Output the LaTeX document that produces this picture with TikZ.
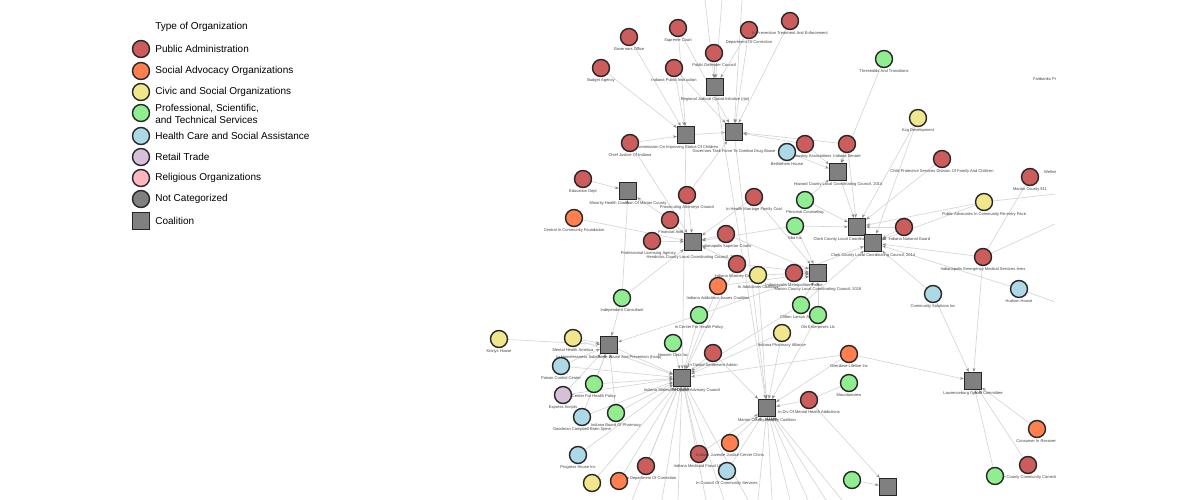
\documentclass[tikz,border=0pt]{standalone}
\usepackage{fontspec}
\setmainfont{Liberation Sans}
\usetikzlibrary{arrows.meta}
\definecolor{pacol}{RGB}{205,92,92}
\definecolor{saocol}{RGB}{255,127,80}
\definecolor{csocol}{RGB}{240,230,140}
\definecolor{pstcol}{RGB}{144,238,144}
\definecolor{hccol}{RGB}{173,216,230}
\definecolor{rtcol}{RGB}{216,191,216}
\definecolor{rocol}{RGB}{255,182,193}
\definecolor{nccol}{RGB}{128,128,128}
\definecolor{linkcol}{RGB}{215,215,215}
\pgfdeclarelayer{bg}
\pgfsetlayers{bg,main}
\tikzset{
    org/.style={circle, draw=black!85, line width=0.8pt, minimum size=0.34cm, inner sep=0pt},
    pa/.style={org, fill=pacol},
    sao/.style={org, fill=saocol},
    cso/.style={org, fill=csocol},
    pst/.style={org, fill=pstcol},
    hc/.style={org, fill=hccol},
    rt/.style={org, fill=rtcol},
    ro/.style={org, fill=rocol},
    nc/.style={org, fill=nccol},
    coal/.style={rectangle, draw=black!85, line width=0.8pt, fill=nccol, minimum size=0.34cm, inner sep=0pt},
    lbl/.style={font=\fontsize{2.3}{2.6}\selectfont, text=black!75, inner sep=0.5pt},
    link/.style={draw=linkcol, line width=0.4pt},
    tie/.style={link, -{Stealth[length=2.2pt,width=1.7pt,color=black!45]}},
    legtxt/.style={anchor=west, font=\fontsize{5.7}{6.9}\selectfont, inner sep=0pt, align=left}
}
\begin{document}
\begin{tikzpicture}[x=0.02cm, y=-0.02cm]
    \useasboundingbox (0,0) rectangle (1200,500);
    \node[legtxt] (legtitle) at (155,27) {Type of Organization};
    \node[pa] (legpa) at (141,49) {};
    \node[legtxt] (legpatxt) at (155,49) {Public Administration};
    \node[sao] (legsao) at (141,71) {};
    \node[legtxt] (legsaotxt) at (155,71) {Social Advocacy Organizations};
    \node[cso] (legcso) at (141,92) {};
    \node[legtxt] (legcsotxt) at (155,92) {Civic and Social Organizations};
    \node[pst] (legpst) at (141,113) {};
    \node[legtxt] (legpsttxt) at (155,114) {Professional, Scientific,\\and Technical Services};
    \node[hc] (leghc) at (141,136) {};
    \node[legtxt] (leghctxt) at (155,136) {Health Care and Social Assistance};
    \node[rt] (legrt) at (141,157) {};
    \node[legtxt] (legrttxt) at (155,157) {Retail Trade};
    \node[ro] (legro) at (141,178) {};
    \node[legtxt] (legrotxt) at (155,178) {Religious Organizations};
    \node[nc] (legnc) at (141,199) {};
    \node[legtxt] (legnctxt) at (155,199) {Not Categorized};
    \node[coal] (legcoal) at (141,221) {};
    \node[legtxt] (legcoaltxt) at (155,221) {Coalition};

    \begin{scope}
    \clip (470,0) rectangle (1055,500);
    \node[coal, label={[lbl]below:Regional Judicial Opioid Initiative (rjoi)}] (rjoi) at (715,87) {};
    \node[coal, label={[lbl, xshift=-5pt]below:Commission On Improving Status Of Children}] (cisc) at (686,135) {};
    \node[coal, label={[lbl, yshift=-4pt]below:Governors Task Force To Combat Drug Abuse}] (gtf) at (734,132) {};
    \node[coal, label={[lbl]below:Minority Health Coalition Of Marion County}] (mhc) at (628,191) {};
    \node[coal, label={[lbl]below:Howard County Local Coordinating Council, 2014}] (howard) at (838,172) {};
    \node[coal, label={[lbl, yshift=-2pt]below:Hendricks County Local Coordinating Council, 2016}] (hend) at (693,242) {};
    \node[coal, label={[lbl, xshift=-4pt]below:Clark County Local Coordinating Council}] (clarka) at (857,227) {};
    \node[coal, label={[lbl]below:Clark County Local Coordinating Council, 2014}] (clarkb) at (873,243) {};
    \node[coal, label={[lbl, yshift=-2.5pt]below:Marion County Local Coordinating Council, 2018}] (mclcc) at (818,273) {};
    \node[coal, label={[lbl]below:In Homelessness Substance Abuse And Prevention (hsap)}] (hsap) at (609,345) {};
    \node[coal, label={[lbl]below:Indiana Statewide Opioid Advisory Council}] (soac) at (682,378) {};
    \node[coal, label={[lbl]below:Marion County Healthy Coalition}] (mchc) at (767,408) {};
    \node[coal, label={[lbl]below:Lawrenceburg Opioid Committee}] (lawr) at (973,381) {};
    \node[coal] (southco) at (888,487) {};

    \node[pa, label={[lbl]below:Governors Office}] (govoff) at (629,37) {};
    \node[pa, label={[lbl]below:Supreme Court}] (supct) at (678,28) {};
    \node[pa, label={[lbl]below:Budget Agency}] (budget) at (601,68) {};
    \node[pa, label={[lbl]below:Indiana Public Instruction}] (pubinst) at (674,68) {};
    \node[pa, label={[lbl]below:Public Defender Council}] (pubdef) at (714,53) {};
    \node[pa, label={[lbl]below:Department Of Correction}] (doc) at (749,30) {};
    \node[pa, label={[lbl]below:In Prevention Treatment And Enforcement}] (pte) at (790,21) {};
    \node[pa, label={[lbl]below:Chief Justice Of Indiana}] (chiefj) at (630,143) {};
    \node[pa, label={[lbl]below:Education Dept}] (edu) at (583,179) {};
    \node[pa, label={[lbl]below:Prosecuting Attorneys Council}] (prosec) at (687,195) {};
    \node[pa, label={[lbl]below:In Health Marriage Family Coal}] (hmfc) at (754,197) {};
    \node[pa, label={[lbl]below:Financial Aid}] (finaid) at (670,220) {};
    \node[pa, label={[lbl, xshift=-2pt]below:Professional Licensing Agency}] (pla) at (652,241) {};
    \node[pa, label={[lbl]below:Indianapolis Superior Courts}] (supcourts) at (726,234) {};
    \node[pa, label={[lbl]below:Indiana Attorney General}] (attgen) at (737,264) {};
    \node[pa, label={[lbl]below:Indianapolis Metropolitan Police}] (impd) at (794,273) {};
    \node[pa, label={[lbl]below:In Opioid Settlement Admin}] (setadm) at (713,353) {};
    \node[pa, label={[lbl]below:In Div Of Mental Health Addictions}] (dmha) at (809,400) {};
    \node[pa, label={[lbl]below:Indiana Department Of Correction}] (idoc) at (646,466) {};
    \node[pa, label={[lbl]below:Indiana Medicaid Fraud Unit}] (mfu) at (699,454) {};
    \node[pa, label={[lbl]below:Indiana Housing Associations}] (housing) at (805,144) {};
    \node[pa, label={[lbl]below:Indiana Senate}] (senate) at (847,144) {};
    \node[pa, label={[lbl]below:Child Protective Services Division Of Family And Children}] (cps) at (942,159) {};
    \node[pa, label={[lbl]below:Marion County 911}] (mc911) at (1030,177) {};
    \node[pa, label={[lbl, xshift=3pt]below:Indiana National Guard}] (guard) at (904,227) {};
    \node[pa, label={[lbl]below:Indianapolis Emergency Medical Services Iems}] (iems) at (983,257) {};
    \node[pa, label={[lbl]below:Marion County Community Corrections}] (mccc) at (1028,465) {};

    \node[sao, label={[lbl]below:Central In Community Foundation}] (cicf) at (574,218) {};
    \node[sao, label={[lbl]below:Indiana Addictions Issues Coalition}] (aic) at (718,286) {};
    \node[sao, label={[lbl]below:Overdose Lifeline Inc}] (odl) at (849,354) {};
    \node[sao, label={[lbl]below:Indiana Juvenile Justice Center Chins}] (jjc) at (730,443) {};
    \node[sao] (youth) at (619,481) {};
    \node[sao, label={[lbl]below:Consumer In Recovery}] (cir) at (1037,429) {};

    \node[cso, label={[lbl]below:Kcg Development}] (kcg) at (918,118) {};
    \node[cso, label={[lbl]below:Public Advocates In Community Re-entry Pace}] (pace) at (984,202) {};
    \node[cso, label={[lbl]below:In Addictions Coalition}] (iac) at (758,275) {};
    \node[cso, label={[lbl]below:Indiana Pharmacy Alliance}] (ipa) at (782,333) {};
    \node[cso, label={[lbl]below:Kristys House}] (kristy) at (499,339) {};
    \node[cso, label={[lbl]below:Mental Health America}] (mha) at (573,338) {};
    \node[cso] (civic) at (592,483) {};

    \node[pst, label={[lbl]below:Thresholds And Transitions}] (thresh) at (884,59) {};
    \node[pst, label={[lbl]below:Personal Counseling}] (perscoun) at (805,200) {};
    \node[pst, label={[lbl]below:Sba Inc}] (sba) at (795,226) {};
    \node[pst, label={[lbl]below:Independent Consultant}] (indcons) at (622,298) {};
    \node[pst, label={[lbl]below:In Center For Health Policy}] (cfhp) at (699,315) {};
    \node[pst, label={[lbl]below:Clifton Larson Allen Llp}] (clifton) at (801,305) {};
    \node[pst, label={[lbl]below:Ols Enterprises Llc}] (ols) at (818,315) {};
    \node[pst, label={[lbl]below:Hoosier Data Inc}] (hoosier) at (673,343) {};
    \node[pst, label={[lbl]below:Center For Health Policy}] (chp) at (594,384) {};
    \node[pst, label={[lbl]below:Indiana Board Of Pharmacy}] (pharmb) at (616,413) {};
    \node[pst, label={[lbl]below:Mountainview}] (mtview) at (849,383) {};
    \node[pst] (consult) at (852,480) {};
    \node[pst] (mcgreen) at (995,476) {};

    \node[hc, label={[lbl]below:Bethlehem House}] (bethl) at (787,152) {};
    \node[hc, label={[lbl]below:Community Solutions Inc}] (commsol) at (933,294) {};
    \node[hc, label={[lbl]below:Hudson House}] (hudson) at (1019,289) {};
    \node[hc, label={[lbl]below:Poison Control Center}] (poison) at (561,366) {};
    \node[hc, label={[lbl]below:Goodman Campbell Brain Spine}] (goodman) at (582,417) {};
    \node[hc, label={[lbl]below:Progress House Inc}] (progress) at (578,455) {};
    \node[hc, label={[lbl]below:In Council Of Community Services}] (iccs) at (727,471) {};

    \node[rt, label={[lbl]below:Express Scripts}] (express) at (563,395) {};

    \node[lbl, anchor=west] (fairbanks) at (1032,79) {Fairbanks Prevention};
    \node[lbl, anchor=west] (wellness) at (1043,172) {Wellness Center};

    \coordinate (top1) at (705,0);
    \coordinate (top2) at (722,0);
    \coordinate (top3) at (742,0);
    \coordinate (rt1) at (1055,194);
    \coordinate (rt2) at (1055,224);
    \coordinate (rt3) at (1055,302);
    \coordinate (bt1) at (632,500);
    \coordinate (bt2) at (662,500);
    \coordinate (bt3) at (678,500);
    \coordinate (bt4) at (706,500);
    \coordinate (bt5) at (724,500);
    \coordinate (bt6) at (748,500);
    \coordinate (bt7) at (758,500);
    \coordinate (bt8) at (772,500);
    \coordinate (bt9) at (790,500);
    \coordinate (bt10) at (808,500);
    \coordinate (bt11) at (826,500);
    \coordinate (bt12) at (842,500);
    \end{scope}

    \begin{pgfonlayer}{bg}
    \begin{scope}
    \clip (470,0) rectangle (1055,500);
    \draw[tie] (top1) -- (rjoi);
    \draw[tie] (top2) -- (rjoi);
    \draw[tie] (pubdef) -- (rjoi);
    \draw[tie] (doc) -- (rjoi);
    \draw[tie] (budget) -- (cisc);
    \draw[tie] (govoff) -- (cisc);
    \draw[tie] (supct) -- (cisc);
    \draw[tie] (pubinst) -- (cisc);
    \draw[tie] (chiefj) -- (cisc);
    \draw[tie] (supct) -- (gtf);
    \draw[tie] (pubinst) -- (gtf);
    \draw[tie] (doc) -- (gtf);
    \draw[tie] (pte) -- (gtf);
    \draw[tie] (top3) -- (gtf);
    \draw[tie] (housing) -- (gtf);
    \draw[tie] (senate) -- (gtf);
    \draw[tie] (prosec) -- (gtf);
    \draw[tie] (cisc) -- (gtf);
    \draw[tie] (edu) -- (mhc);
    \draw[tie] (finaid) -- (mhc);
    \draw[tie] (indcons) -- (mhc);
    \draw[tie] (cicf) -- (hend);
    \draw[tie] (pla) -- (hend);
    \draw[tie] (finaid) -- (hend);
    \draw[tie] (prosec) -- (hend);
    \draw[tie] (supcourts) -- (hend);
    \draw[tie] (attgen) -- (hend);
    \draw[tie] (indcons) -- (hend);
    \draw[tie] (sba) -- (hend);
    \draw[tie] (hmfc) -- (hend);
    \draw[tie] (chiefj) -- (hend);
    \draw[tie] (housing) -- (howard);
    \draw[tie] (senate) -- (howard);
    \draw[tie] (thresh) -- (howard);
    \draw[tie] (bethl) -- (howard);
    \draw[tie] (perscoun) -- (howard);
    \draw[tie] (kcg) -- (clarka);
    \draw[tie] (cps) -- (clarka);
    \draw[tie] (pace) -- (clarka);
    \draw[tie] (perscoun) -- (clarka);
    \draw[tie] (senate) -- (clarka);
    \draw[tie] (guard) -- (clarka);
    \draw[tie] (howard) -- (clarka);
    \draw[tie] (sba) -- (clarka);
    \draw[tie] (guard) -- (clarkb);
    \draw[tie] (commsol) -- (clarkb);
    \draw[tie] (hudson) -- (clarkb);
    \draw[tie] (iems) -- (clarkb);
    \draw[tie] (pace) -- (clarkb);
    \draw[tie] (clifton) -- (clarkb);
    \draw[tie] (impd) -- (clarkb);
    \draw[tie] (kcg) -- (clarkb);
    \draw[tie] (impd) -- (mclcc);
    \draw[tie] (iac) -- (mclcc);
    \draw[tie] (attgen) -- (mclcc);
    \draw[tie] (aic) -- (mclcc);
    \draw[tie] (clifton) -- (mclcc);
    \draw[tie] (ols) -- (mclcc);
    \draw[tie] (sba) -- (mclcc);
    \draw[tie] (hmfc) -- (mclcc);
    \draw[tie] (supcourts) -- (mclcc);
    \draw[tie] (cfhp) -- (mclcc);
    \draw[tie] (kristy) -- (hsap);
    \draw[tie] (mha) -- (hsap);
    \draw[tie] (poison) -- (hsap);
    \draw[tie] (chp) -- (hsap);
    \draw[tie] (indcons) -- (hsap);
    \draw[tie] (pharmb) -- (hsap);
    \draw[tie] (goodman) -- (hsap);
    \draw[tie] (express) -- (hsap);
    \draw[tie] (cfhp) -- (hsap);
    \draw[tie] (hoosier) -- (soac);
    \draw[tie] (setadm) -- (soac);
    \draw[tie] (chp) -- (soac);
    \draw[tie] (poison) -- (soac);
    \draw[tie] (goodman) -- (soac);
    \draw[tie] (progress) -- (soac);
    \draw[tie] (pharmb) -- (soac);
    \draw[tie] (express) -- (soac);
    \draw[tie] (mha) -- (soac);
    \draw[tie] (cfhp) -- (soac);
    \draw[tie] (aic) -- (soac);
    \draw[tie] (odl) -- (soac);
    \draw[tie] (ipa) -- (soac);
    \draw[tie] (attgen) -- (soac);
    \draw[tie] (clifton) -- (soac);
    \draw[tie] (hsap) -- (soac);
    \draw[tie] (cisc) -- (soac);
    \draw[tie] (civic) -- (soac);
    \draw[tie] (youth) -- (soac);
    \draw[tie] (idoc) -- (soac);
    \draw[tie] (mfu) -- (soac);
    \draw[tie] (bt1) -- (soac);
    \draw[tie] (bt2) -- (soac);
    \draw[tie] (bt3) -- (soac);
    \draw[tie] (bt4) -- (soac);
    \draw[tie] (bt5) -- (soac);
    \draw[tie] (bt6) -- (soac);
    \draw[tie] (dmha) -- (mchc);
    \draw[tie] (ipa) -- (mchc);
    \draw[tie] (ols) -- (mchc);
    \draw[tie] (setadm) -- (mchc);
    \draw[tie] (jjc) -- (mchc);
    \draw[tie] (mfu) -- (mchc);
    \draw[tie] (iccs) -- (mchc);
    \draw[tie] (odl) -- (mchc);
    \draw[tie] (iac) -- (mchc);
    \draw[tie] (gtf) -- (mchc);
    \draw[tie] (rjoi) -- (mchc);
    \draw[tie] (bt7) -- (mchc);
    \draw[tie] (bt8) -- (mchc);
    \draw[tie] (bt9) -- (mchc);
    \draw[tie] (bt10) -- (mchc);
    \draw[tie] (bt11) -- (mchc);
    \draw[tie] (bt12) -- (mchc);
    \draw[tie] (iems) -- (lawr);
    \draw[tie] (commsol) -- (lawr);
    \draw[tie] (odl) -- (lawr);
    \draw[tie] (cir) -- (lawr);
    \draw[tie] (mccc) -- (lawr);
    \draw[tie] (mcgreen) -- (lawr);
    \draw[tie] (dmha) -- (southco);
    \draw[tie] (consult) -- (southco);
    \draw[link] (mc911) -- (iems);
    \draw[link] (mtview) -- (dmha);
    \draw[link] (rt1) -- (pace);
    \draw[link] (rt2) -- (iems);
    \draw[link] (rt3) -- (hudson);
    \end{scope}
    \end{pgfonlayer}
\end{tikzpicture}
\end{document}
